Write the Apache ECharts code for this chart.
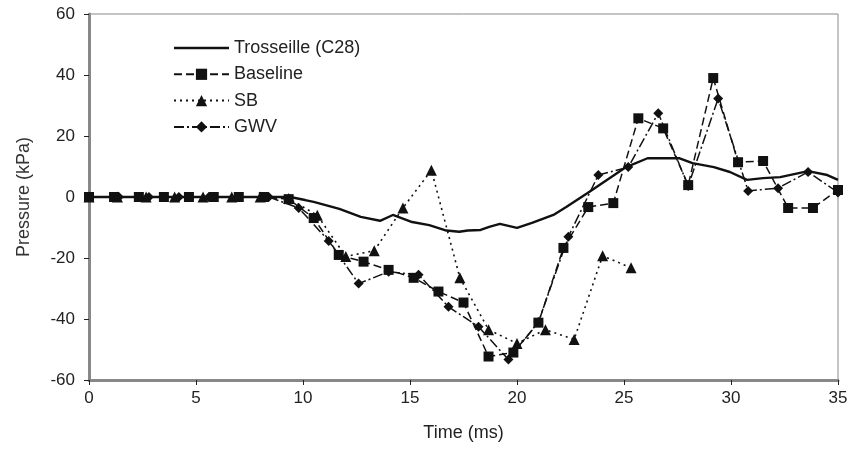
<!DOCTYPE html>
<html>
<head>
<meta charset="utf-8">
<script src="https://cdn.jsdelivr.net/npm/echarts@6/dist/echarts.min.js"></script>
<style>html,body{margin:0;padding:0;background:#fff;}#c{width:851px;height:465px;}</style>
</head>
<body>
<div id="c"></div>
<script>
// Trosseille (C28)
var trossT = [0,2,4,6,8,9,9.4,10.1,10.5,11.7,12.7,13.6,14.2,15.1,15.9,16.7,17.3,17.7,18.3,18.7,19.2,20.0,20.7,21.7,22.3,23.3,24.2,25.1,26.1,26.7,27.6,28.2,29.2,29.95,30.75,31.5,32.3,33.6,34.5,35];
var trossV = [0,0,0,0,0,0,0,-1,-1.6,-3.9,-6.5,-7.8,-5.9,-8.2,-9.2,-11,-11.4,-11,-10.8,-9.8,-8.8,-10.1,-8.5,-5.9,-3.3,1.3,5.6,9.8,12.7,12.7,12.7,11.1,9.8,8.2,5.6,6.2,6.5,8.5,7.2,5.6];
// Baseline
var baseT = [0,1.17,2.33,3.5,4.67,5.83,7,8.17,9.33,10.5,11.67,12.83,14,15.17,16.33,17.5,18.67,19.83,21,22.17,23.33,24.5,25.67,26.83,28,29.17,30.33,31.5,32.67,33.83,35];
var baseV = [0,0,0,0,0,0,0,0,-0.7,-6.9,-19,-21.2,-23.9,-26.5,-31,-34.6,-52.3,-51,-41.2,-16.7,-3.3,-2,25.8,22.5,3.9,39,11.4,11.8,-3.6,-3.6,2.3];
// SB
var sbT = [0,1.33,2.67,4,5.33,6.67,8,9.33,10.67,12,13.33,14.67,16,17.33,18.67,20,21.33,22.67,24,25.33];
var sbV = [0,0,0,0,0,0,0,-0.5,-6,-19.5,-17.6,-3.6,8.8,-26.5,-43.5,-48,-43.5,-46.7,-19.3,-23.2];
// GWV
var gwvT = [0,1.4,2.8,4.2,5.6,7,8.4,9.8,11.2,12.6,14,15.4,16.8,18.2,19.6,21,22.4,23.8,25.2,26.6,28,29.4,30.8,32.2,33.6,35];
var gwvV = [0,0,0,0,0,0,0,-3.6,-14.4,-28.4,-24.5,-25.5,-36,-42.5,-53.3,-41,-13,7.2,9.8,27.5,3.6,32.3,2,2.9,8.2,1.5];

var xTicks = [0,5,10,15,20,25,30,35];
var yTicks = [-60,-40,-20,0,20,40,60];

function pairs(t, v){ return t.map(function(x,i){ return [x, v[i]]; }); }

var FONT = 'Liberation Sans, Arial, sans-serif';
var chart = echarts.init(document.getElementById('c'), null, {renderer:'canvas'});
chart.setOption({
  animation:false,
  backgroundColor:'#fff',
  grid:{left:89,right:13,top:14,bottom:85,show:true,borderColor:'#888',borderWidth:1},
  legend:{
    orient:'vertical', left:168, top:34, itemWidth:55, itemHeight:14, itemGap:8.3,
    textStyle:{color:'#222', fontSize:18, lineHeight:18, fontFamily:FONT},
    data:[{name:'Trosseille (C28)', icon:'path://M0,0 L55,0 L55,2.4 L0,2.4 Z', itemStyle:{color:'#111'}},'Baseline','SB','GWV']
  },
  xAxis:{
    type:'value', min:xTicks[0], max:xTicks[xTicks.length-1], interval:5,
    name:'Time (ms)', nameLocation:'middle', nameGap:44,
    nameTextStyle:{color:'#222', fontSize:18, fontFamily:FONT},
    axisLine:{onZero:false, lineStyle:{color:'#888', width:3}},
    axisTick:{show:true, length:5, lineStyle:{color:'#222', width:1}},
    axisLabel:{color:'#222', fontSize:17, fontFamily:FONT, margin:10},
    splitLine:{show:false}
  },
  yAxis:{
    type:'value', min:yTicks[0], max:yTicks[yTicks.length-1], interval:20,
    name:'Pressure (kPa)', nameLocation:'middle', nameGap:56,
    nameTextStyle:{color:'#333', fontSize:18, fontFamily:FONT},
    axisLine:{onZero:false, lineStyle:{color:'#888', width:3}},
    axisTick:{show:true, length:5, lineStyle:{color:'#222', width:1}},
    axisLabel:{color:'#222', fontSize:17, fontFamily:FONT, margin:14},
    splitLine:{show:false}
  },
  series:[
    {name:'Trosseille (C28)', type:'line', data:pairs(trossT,trossV), symbol:'none',
     lineStyle:{color:'#111', width:2.4, type:'solid'}, itemStyle:{color:'#111'}, z:5},
    {name:'Baseline', type:'line', data:pairs(baseT,baseV), symbol:'rect', symbolSize:10,
     lineStyle:{color:'#111', width:1.5, type:[8,4]}, itemStyle:{color:'#111'}, z:4},
    {name:'SB', type:'line', data:pairs(sbT,sbV), symbol:'triangle', symbolSize:11,
     lineStyle:{color:'#111', width:1.6, type:[2,4]}, itemStyle:{color:'#111'}, z:3},
    {name:'GWV', type:'line', data:pairs(gwvT,gwvV), symbol:'diamond', symbolSize:10,
     lineStyle:{color:'#111', width:1.5, type:[10,3,2,3]}, itemStyle:{color:'#111'}, z:3}
  ]
});
</script>
</body>
</html>
